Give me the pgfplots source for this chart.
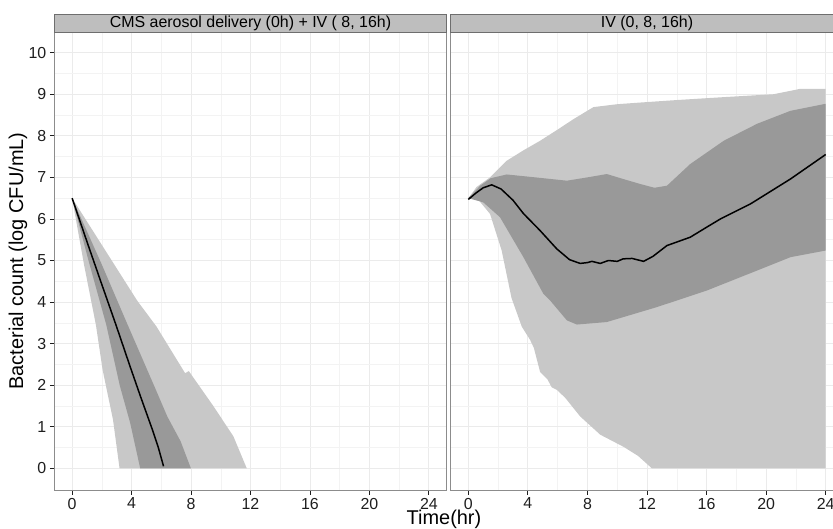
\documentclass[border=0pt]{standalone}
\usepackage{fontspec}
\setmainfont{Liberation Sans}
\usepackage{pgfplots}
\pgfplotsset{compat=1.18}
\definecolor{lightband}{HTML}{C8C8C8}
\definecolor{darkband}{HTML}{999999}
\definecolor{gridc}{HTML}{EBEBEB}
\definecolor{gridm}{HTML}{F3F3F3}
\definecolor{stripc}{HTML}{BEBEBE}
\definecolor{stripb}{HTML}{6E6E6E}
\definecolor{borderc}{HTML}{8C8C8C}
\definecolor{tickc}{HTML}{1E1E1E}
\begin{document}
\begin{tikzpicture}
\useasboundingbox (0bp,0bp) rectangle (833bp,529bp);
\pgfplotsset{
 panel/.style={
   scale only axis, height=457.3bp, ymin=-0.52, ymax=10.48,
   ytick={0,...,10}, xtick={0,4,...,24},
   minor x tick num=1, minor y tick num=1,
   grid=both,
   major grid style={draw=gridc, line width=0.8bp},
   minor grid style={draw=gridm, line width=0.5bp},
   axis line style={draw=borderc, line width=0.9bp},
   tick align=outside, major tick length=4.5bp, minor tick length=0pt,
   tick pos=left,
   tick style={draw=tickc, line width=0.8bp},
   ticklabel style={font=\fontsize{16}{16}\selectfont, text=tickc},
   /pgf/number format/assume math mode=true,
   anchor=south west,
 }
}
% ---------------- left panel ----------------
\begin{axis}[panel, name=L, at={(54.3bp,39bp)}, width=392.4bp, xmin=-1.2, xmax=25.2]
\addplot[fill=lightband, draw=none] coordinates {
 (0,6.5) (4.35,4.05) (4.55,3.95) (5.66,3.42) (7.6,2.29) (7.85,2.34) (9.5,1.5) (10.85,0.77) (11.75,0)
 (3.19,0) (2.75,1.17) (2.05,2.37) (1.6,3.45) (0.8,4.9) (0,6.5)} -- cycle;
\addplot[fill=darkband, draw=none] coordinates {
 (0,6.5) (2.0,4.9) (3.74,3.45) (5.5,2.0) (6.4,1.25) (7.3,0.65) (7.99,0)
 (4.58,0) (3.9,1.1) (3.2,2.0) (2.3,3.45) (1.1,5.0) (0,6.5)} -- cycle;
\addplot[black, line width=1.5bp] coordinates {
 (0,6.5) (1,5.45) (2,4.42) (2.95,3.45) (3.9,2.45) (4.6,1.73) (5.4,0.93) (5.8,0.5) (6.15,0.05)};
\end{axis}
% ---------------- right panel ----------------
\begin{axis}[panel, name=R, at={(450bp,39bp)}, width=394bp, xmin=-1.23, xmax=25.23,
  yticklabels={}, ytick style={draw=none}]
\addplot[fill=lightband, draw=none] coordinates {
 (0,6.5) (0.56,6.77) (1.46,7.0) (2.58,7.4) (3.7,7.65) (4.82,7.88) (6.0,8.15) (7.06,8.4) (8.4,8.69) (10,8.76) (11.55,8.8)
 (14,8.86) (17.15,8.93) (20.5,9.0) (22.3,9.13) (24.0,9.13)
 (24.0,0) (12.33,0) (11.4,0.3) (10.42,0.52) (8.86,0.81) (7.51,1.25) (6.5,1.7) (5.94,1.89) (5.6,1.95) (5.3,2.15) (4.82,2.32)
 (4.4,2.9) (4.15,3.09) (3.59,3.41) (2.9,4.1) (2.24,5.24) (1.46,6.12) (0.7,6.45) (0,6.5)} -- cycle;
\addplot[fill=darkband, draw=none] coordinates {
 (0,6.5) (0.8,6.8) (1.5,6.98) (2.58,7.07) (4.5,7.0) (6.62,6.92) (8.0,7.0) (9.3,7.08) (10.5,6.95) (11.55,6.84)
 (12.5,6.75) (13.34,6.8) (14.9,7.32) (17.15,7.88) (19.4,8.29) (21.63,8.6) (24.0,8.77)
 (24.0,5.24) (21.63,5.08) (19.4,4.76) (16.03,4.28) (12.67,3.88) (9.3,3.52) (7.29,3.46) (6.62,3.56) (5.49,4.04)
 (5.04,4.2) (3.7,5.08) (2.13,6.04) (1.0,6.4) (0,6.5)} -- cycle;
\addplot[black, line width=1.5bp] coordinates {
 (0,6.47) (0.5,6.62) (1,6.75) (1.57,6.82) (2.2,6.72) (3,6.45) (3.7,6.13) (4.82,5.72) (5.94,5.28) (6.8,5.02)
 (7.51,4.93) (8.0,4.95) (8.3,4.98) (8.86,4.93) (9.4,5.0) (10,4.98) (10.4,5.04) (11,5.05) (11.77,4.98)
 (12.4,5.1) (13.34,5.36) (14.9,5.56) (16,5.8) (16.93,6.0) (18.94,6.36) (21.63,6.96) (24.0,7.55)};
\end{axis}
% strips
\draw[fill=stripc, draw=stripb, line width=0.6bp] (L.north west) rectangle ([yshift=18.4bp]L.north east);
\node[font=\fontsize{16}{16}\selectfont, text=black] at ([yshift=9.2bp]L.north) {CMS aerosol delivery (0h) + IV ( 8, 16h)};
\draw[fill=stripc, draw=stripb, line width=0.6bp] (R.north west) rectangle ([yshift=18.4bp]R.north east);
\node[font=\fontsize{16}{16}\selectfont, text=black] at ([yshift=9.2bp]R.north) {IV (0, 8, 16h)};
% axis titles
\node[font=\fontsize{20}{20}\selectfont, inner sep=1bp] at (444bp,10bp) {Time(hr)};
\node[font=\fontsize{20}{20}\selectfont, rotate=90] at (18bp,268bp) {Bacterial count (log CFU/mL)};
\end{tikzpicture}
\end{document}
